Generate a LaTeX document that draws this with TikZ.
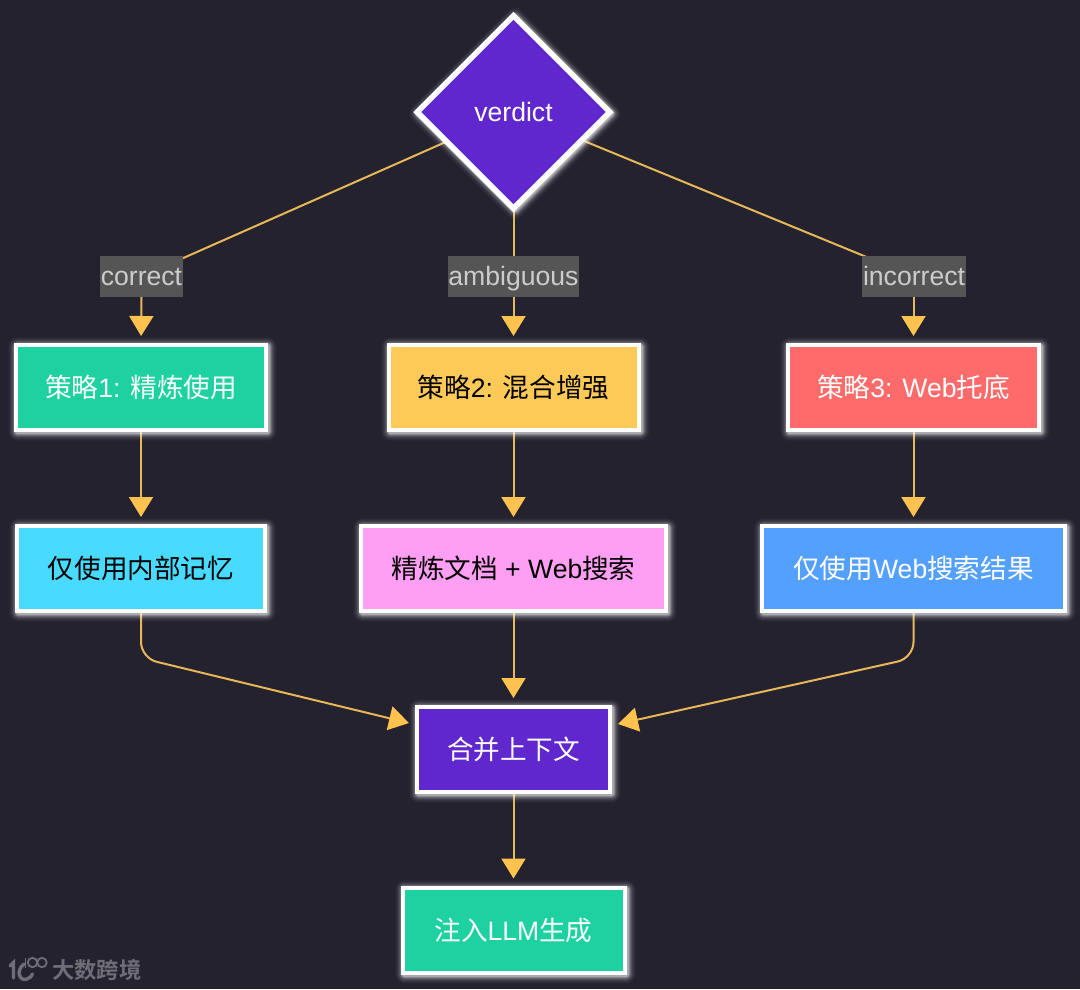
\documentclass[tikz,border=0pt]{standalone}
\usepackage{fontspec}
\setmainfont{Liberation Sans}
\newfontfamily\cjk{Noto Sans CJK SC}
\newfontfamily\cjkb{Noto Sans CJK SC Bold}
\newcommand{\zh}[1]{{\cjk #1}}
\usetikzlibrary{shapes.geometric,arrows.meta,calc}
\pgfdeclarelayer{edges}
\pgfsetlayers{edges,main}
\definecolor{bgc}{HTML}{24222F}
\definecolor{linec}{HTML}{E8B757}
\definecolor{tipc}{HTML}{FFC24F}
\definecolor{cgreen}{HTML}{1DD1A1}
\definecolor{cyellow}{HTML}{FECA57}
\definecolor{cred}{HTML}{FF6B6B}
\definecolor{ccyan}{HTML}{48DBFF}
\definecolor{cpink}{HTML}{FF9FF3}
\definecolor{cblue}{HTML}{54A0FF}
\definecolor{cpurple}{HTML}{5F27CD}
\definecolor{lblbg}{HTML}{555555}
\definecolor{lbltx}{HTML}{CCCCCC}
\definecolor{wm}{HTML}{6E6E76}
\tikzset{
  x=1pt,y=-1pt,
  halo/.style n args={2}{preaction={draw=white,draw opacity=#2,line width=#1,line join=round,transform canvas={shift={(1.5pt,-1.5pt)}}}},
  glow/.style={halo={19pt}{.02},halo={17pt}{.03},halo={15pt}{.04},halo={13pt}{.06},halo={11pt}{.09},halo={9pt}{.13},halo={7pt}{.2},halo={5pt}{.3}},
  boxnode/.style={rectangle,glow,draw=white,line width=4pt,inner sep=0pt,align=center,
    minimum height=85pt,font=\fontsize{26.6}{30}\selectfont},
  decide/.style={diamond,aspect=1,glow,draw=white,line width=5.5pt,inner sep=0pt,
    minimum width=195pt,minimum height=195pt,fill=cpurple,text=white,font=\fontsize{26.6}{30}\selectfont},
  lbl/.style={rectangle,fill=lblbg,text=lbltx,inner sep=0pt,minimum height=41pt,text height=20pt,text depth=3pt,font=\fontsize{26.6}{30}\selectfont},
  conn/.style={draw=linec,line width=2pt},
  arrowed/.style={conn,-{Triangle[width=24pt,length=20pt,color=tipc]},shorten >=7pt},
  wmark/.style={text=wm,inner sep=0pt,font=\fontsize{22.3}{24}\cjkb\selectfont},
}
\begin{document}
\begin{tikzpicture}
\useasboundingbox (0,0) rectangle (1080,989);
\node[decide] (d) at (513.5,112) {verdict};
\node[lbl,minimum width=83pt] (l1) at (141.5,276.5) {correct};
\node[lbl,minimum width=130pt] (l2) at (513.5,276.5) {ambiguous};
\node[lbl,minimum width=104pt] (l3) at (914,276.5) {incorrect};
\node[boxnode,minimum width=250pt,fill=cgreen,text=white] (s1) at (141,387.5) {\zh{策略}1: \zh{精炼使用}};
\node[boxnode,minimum width=250pt,fill=cyellow,text=black] (s2) at (513.5,387.5) {\zh{策略}2: \zh{混合增强}};
\node[boxnode,minimum width=251pt,fill=cred,text=white] (s3) at (913.5,387.5) {\zh{策略}3: Web\zh{托底}};
\node[boxnode,minimum width=248pt,fill=ccyan,text=black] (a) at (141,568.5) {\zh{仅使用内部记忆}};
\node[boxnode,minimum width=305pt,fill=cpink,text=black] (b) at (513.5,568.5) {\zh{精炼文档} + Web\zh{搜索}};
\node[boxnode,minimum width=303pt,fill=cblue,text=white] (c) at (913.5,568.5) {\zh{仅使用}Web\zh{搜索结果}};
\node[boxnode,minimum width=193pt,fill=cpurple,text=white] (m) at (513.5,749.5) {\zh{合并上下文}};
\node[boxnode,minimum width=222pt,fill=cgreen,text=white] (f) at (513.5,930) {\zh{注入}LLM\zh{生成}};
\node[wmark,anchor=west] (wm) at (52,970) {大数跨境};
\begin{pgfonlayer}{edges}
  \fill[bgc] (0,0) rectangle (1080,989);
  \draw[conn] (d.center) -- (l1.center);
  \draw[conn] (d.center) -- (l2.center);
  \draw[conn] (d.center) -- (l3.center);
  \draw[arrowed] (l1.south) -- (s1.north);
  \draw[arrowed] (l2.south) -- (s2.north);
  \draw[arrowed] (l3.south -| s3.north) -- (s3.north);
  \draw[arrowed] (s1.south) -- (a.north);
  \draw[arrowed] (s2.south) -- (b.north);
  \draw[arrowed] (s3.south) -- (c.north);
  \draw[arrowed] (b.south) -- (m.north);
  \draw[arrowed] (m.south) -- (f.north);
  \draw[conn,-{Triangle[width=24pt,length=20pt,color=tipc]},rounded corners=16pt]
    (a.south) -- ($(a.south)+(0,45)$) -- ($(m.west)+(-6,-26.5)$);
  \draw[conn,-{Triangle[width=24pt,length=20pt,color=tipc]},rounded corners=16pt]
    (c.south) -- ($(c.south)+(0,45)$) -- ($(m.east)+(6,-25.5)$);
\end{pgfonlayer}
% watermark logo
\draw[wm,line width=3.4pt,line cap=round] (10,966) -- (13.5,962.5) -- (13.5,978);
\draw[wm,line width=3.4pt,line cap=round] (24,964) .. controls (15,971) and (20,982) .. (27,979) .. controls (30,978) and (32,976) .. (32.5,974);
\draw[wm,line width=1.8pt] (25.5,958) -- (25.5,968);
\draw[wm,line width=1.8pt] (32.5,962.5) circle (4.7);
\draw[wm,line width=1.8pt] (42,962.5) circle (4.7);
\end{tikzpicture}
\end{document}
